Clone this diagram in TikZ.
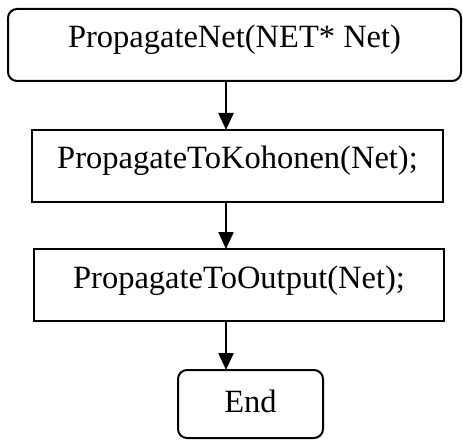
\documentclass[tikz,border=0pt]{standalone}
\usepackage{fontspec}
\setmainfont{Liberation Serif}
\usetikzlibrary{arrows.meta}
\tikzset{
  block/.style={draw=black, line width=2pt, inner sep=0pt, outer sep=0pt,
    font=\fontsize{32.5}{38}\selectfont},
  roundblock/.style={block, rounded corners=9pt},
  flow/.style={draw=black, line width=2.2pt, -{Triangle[length=17pt,width=15pt]}}
}
\begin{document}
\begin{tikzpicture}[x=1pt,y=-1pt]
  \useasboundingbox (0,0) rectangle (463,441);
  % boxes: width/height from their edges, text height/depth set the baseline
  \node[roundblock, minimum width=453pt, minimum height=72pt,
        text height=18pt, text depth=12pt] (start) at (234.5,45)
        {PropagateNet(NET* Net)};
  \node[block, minimum width=411pt, minimum height=72pt,
        text height=17pt, text depth=13pt] (koh) at (237.5,166)
        {PropagateToKohonen(Net);};
  \node[block, minimum width=410pt, minimum height=72pt,
        text height=18pt, text depth=12pt] (out) at (239,285)
        {PropagateToOutput(Net);};
  \node[roundblock, minimum width=145pt, minimum height=68pt,
        text height=23pt, text depth=7pt] (end) at (250.5,404)
        {End};
  % connectors run down a common vertical line
  \coordinate (ax) at (226,0);
  \draw[flow] (start.south -| ax) -- (koh.north -| ax);
  \draw[flow] (koh.south -| ax) -- (out.north -| ax);
  \draw[flow] (out.south -| ax) -- (end.north -| ax);
\end{tikzpicture}
\end{document}
